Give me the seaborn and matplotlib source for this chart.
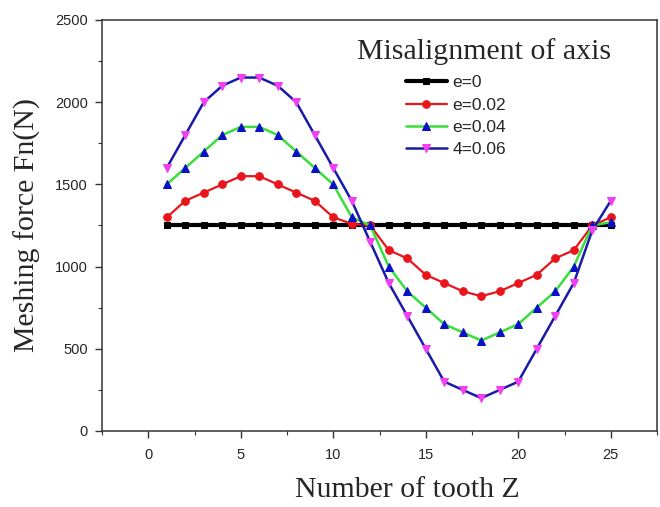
import numpy as np
import pandas as pd
import matplotlib
matplotlib.use("Agg")
import matplotlib.pyplot as plt
import seaborn as sns
from matplotlib.ticker import MultipleLocator

# ---- data ----
teeth = list(range(1, 26))
e0 = [1250] * 25
e002 = [1300, 1400, 1450, 1500, 1550, 1550, 1500, 1450, 1400, 1300, 1260, 1250,
        1100, 1050, 950, 900, 850, 820, 850, 900, 950, 1050, 1100, 1250, 1300]
e004 = [1500, 1600, 1700, 1800, 1850, 1850, 1800, 1700, 1600, 1500, 1300, 1250,
        1000, 850, 750, 650, 600, 550, 600, 650, 750, 850, 1000, 1250, 1270]
e006 = [1600, 1800, 2000, 2100, 2150, 2150, 2100, 2000, 1800, 1600, 1400, 1150,
        900, 700, 500, 300, 250, 200, 250, 300, 500, 700, 900, 1220, 1400]
labels = ["e=0", "e=0.02", "e=0.04", "4=0.06"]
legend_title = "Misalignment of axis"
xlabel = "Number of tooth Z"
ylabel = "Meshing force Fn(N)"

sns.set_style("ticks")
plt.rcParams['font.family'] = ['Liberation Sans', 'DejaVu Sans']

fig = plt.figure(figsize=(6.6, 5.07), dpi=100)
ax = fig.add_axes([102/660, 1-431/507, (657-102)/660, (431-20)/507])

styles = [
    dict(color="black", marker="s", markersize=5, lw=3.0, mfc="black", mec="black"),
    dict(color="#e8161c", marker="o", markersize=5.5, lw=1.6, mfc="#e8161c", mec="#e8161c"),
    dict(color="#3ade3a", marker="^", markersize=6, lw=1.8, mfc="#0a10c8", mec="#0a10c8"),
    dict(color="#1a1aa8", marker="v", markersize=6, lw=1.8, mfc="#f040f0", mec="#f040f0"),
]
for ys, lab, st in zip([e0, e002, e004, e006], labels, styles):
    sns.lineplot(x=teeth, y=ys, ax=ax, label=lab, **st)

ax.set_xlim(-2.5, 27.5)
ax.set_ylim(0, 2500)
ax.xaxis.set_major_locator(MultipleLocator(5))
ax.xaxis.set_minor_locator(MultipleLocator(2.5))
ax.yaxis.set_major_locator(MultipleLocator(500))
ax.yaxis.set_minor_locator(MultipleLocator(250))
ax.tick_params(which="major", direction="out", length=5, width=1, labelsize=10.5, color="#333333")
ax.tick_params(axis="x", which="major", pad=7)
ax.tick_params(axis="y", which="major", pad=5)
ax.tick_params(which="minor", direction="out", length=3, width=0.8, color="#333333")
for sp in ax.spines.values():
    sp.set_visible(True)
    sp.set_linewidth(1.1)
    sp.set_color("#333333")

ax.set_xlabel(xlabel, family="Liberation Serif", fontsize=21.5, labelpad=11)
ax.xaxis.label.set_x((407 - 102) / 555)
ax.set_ylabel(ylabel, family="Liberation Serif", fontsize=21.5, labelpad=10)

leg = ax.legend(loc="upper left", bbox_to_anchor=(406/660, 1-75/507),
                bbox_transform=fig.transFigure, frameon=False, fontsize=12.5,
                handlelength=2.36, handletextpad=0.3, labelspacing=0.42,
                borderpad=0, borderaxespad=0)
fig.text(357/660, 1-52/507, legend_title, family="Liberation Serif",
         fontsize=21.5, va="center", ha="left")

fig.savefig("out.png", dpi=100)
